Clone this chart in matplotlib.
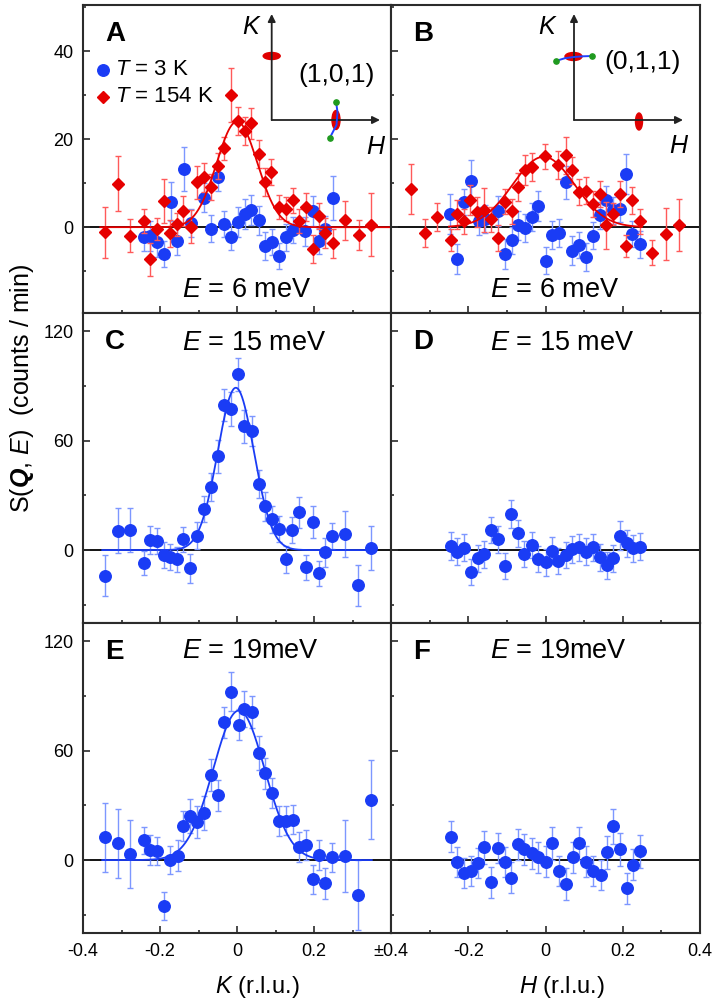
import numpy as np
import matplotlib
matplotlib.use("Agg")
import matplotlib.pyplot as plt
from matplotlib import font_manager as fm
from matplotlib.patches import Ellipse
from matplotlib.ticker import MultipleLocator, FixedLocator

# ---------------- data ----------------
# Panel A (T = 154 K, red) and (T = 3 K, blue), E = 6 meV, along K
A_red_K = [-0.344, -0.310, -0.277, -0.242, -0.225, -0.208, -0.189, -0.173, -0.156, -0.139, -0.119, -0.104,
           -0.085, -0.068, -0.050, -0.035, -0.016, 0.003, 0.020, 0.037, 0.056, 0.074, 0.089, 0.108, 0.126,
           0.145, 0.161, 0.179, 0.197, 0.212, 0.229, 0.249, 0.281, 0.316, 0.349]
A_red_S = [-1.2, 9.9, -1.9, 1.4, -7.3, -0.4, 5.9, -1.4, 0.7, 3.6, 0.1, 10.2, 11.4, 9.2, 13.9, 17.9, 30.0,
           24.2, 21.9, 23.6, 16.6, 10.3, 12.6, 4.6, 4.2, 6.1, 1.4, 4.5, -5.0, 2.6, -1.4, -3.7, 1.6, -1.8, 0.6]
A_red_err = [5.9, 6.3, 3.7, 2.7, 3.8, 2.6, 5.0, 3.0, 2.6, 3.4, 3.8, 3.8, 3.3, 3.0, 3.0, 2.7, 6.1, 3.2, 3.2,
             3.5, 3.2, 3.2, 2.9, 2.8, 2.7, 2.8, 2.8, 3.2, 3.2, 3.0, 3.4, 3.2, 4.4, 3.4, 7.1]
A_blue_K = [-0.242, -0.225, -0.208, -0.189, -0.171, -0.156, -0.137, -0.119, -0.085, -0.068, -0.050, -0.033,
            -0.016, 0.003, 0.020, 0.037, 0.056, 0.074, 0.091, 0.108, 0.127, 0.145, 0.177, 0.197, 0.212,
            0.229, 0.249]
A_blue_S = [-2.3, -1.9, -3.3, -6.1, 5.8, -3.1, 13.3, 1.0, 6.7, -0.3, 11.4, 0.7, -2.2, 1.2, 3.0, 3.9, 1.6,
            -4.3, -3.3, -6.5, -2.3, -0.7, -0.9, 3.6, -3.1, -0.5, 6.7]
A_blue_err = [3.0, 3.4, 3.4, 3.0, 4.5, 3.2, 5.0, 3.2, 3.3, 3.0, 3.2, 3.0, 3.0, 3.5, 3.4, 3.4, 3.3, 3.2, 3.0,
              3.0, 3.0, 3.0, 3.3, 3.4, 3.0, 3.0, 5.0]

# Panel B, E = 6 meV, along H
B_red_H = [-0.348, -0.313, -0.280, -0.245, -0.229, -0.212, -0.195, -0.177, -0.158, -0.141, -0.123, -0.106,
           -0.088, -0.071, -0.054, -0.036, -0.002, 0.033, 0.052, 0.069, 0.087, 0.106, 0.123, 0.140, 0.156,
           0.176, 0.193, 0.208, 0.225, 0.244, 0.277, 0.312, 0.346]
B_red_S = [8.7, -1.3, 2.4, -2.9, 2.9, 1.3, 6.2, 3.4, 3.8, 1.8, -2.4, 5.8, 3.6, 9.2, 13.1, 13.6, 16.1, 14.2,
           16.3, 12.9, 8.0, 8.3, 5.3, 7.6, 0.4, 3.0, 7.6, -4.3, 6.1, 1.3, -5.8, -1.5, 0.5]
B_red_err = [5.7, 3.2, 3.2, 2.6, 3.2, 2.8, 3.4, 3.4, 5.0, 2.8, 3.0, 2.8, 2.8, 3.2, 3.4, 3.2, 2.9, 3.2, 4.2,
             3.0, 3.0, 3.0, 3.0, 3.0, 5.3, 2.5, 3.0, 2.5, 3.0, 2.8, 2.8, 5.9, 5.9]
B_blue_H = [-0.247, -0.229, -0.212, -0.193, -0.173, -0.156, -0.123, -0.106, -0.088, -0.071, -0.054, -0.036,
            -0.019, 0.000, 0.017, 0.035, 0.052, 0.069, 0.087, 0.104, 0.123, 0.140, 0.156, 0.176, 0.193,
            0.208, 0.225, 0.244]
B_blue_S = [3.0, -7.3, 5.7, 10.5, 1.5, 1.9, 3.6, -6.1, -3.0, 0.4, -0.2, 2.3, 4.8, -7.6, -1.7, -1.4, 10.2,
            -5.3, -4.0, -6.8, -1.9, 2.7, 6.2, 3.8, 4.2, 12.1, -1.5, -3.9]
B_blue_err = [4.5, 3.4, 3.0, 4.7, 3.2, 3.2, 3.4, 3.4, 3.0, 3.2, 3.2, 3.2, 3.4, 3.0, 3.2, 3.2, 3.8, 3.2, 3.0,
              3.2, 3.0, 3.0, 3.2, 3.0, 3.0, 4.5, 3.0, 3.0]

# Panel C, E = 15 meV, along K
C_K = [-0.342, -0.310, -0.277, -0.242, -0.227, -0.208, -0.190, -0.173, -0.156, -0.139, -0.121, -0.104,
       -0.085, -0.068, -0.050, -0.035, -0.016, 0.003, 0.019, 0.039, 0.056, 0.074, 0.091, 0.108, 0.127,
       0.143, 0.162, 0.179, 0.197, 0.212, 0.229, 0.248, 0.281, 0.314, 0.348]
C_S = [-14.1, 10.6, 11.0, -7.3, 5.5, 5.1, -2.8, -3.7, -5.1, 5.9, -10.1, 7.9, 22.4, 34.5, 51.4, 79.4, 77.4,
       96.3, 67.9, 65.1, 36.1, 23.9, 16.9, 11.6, -5.1, 11.0, 20.6, -9.5, 15.2, -12.8, -1.3, 7.7, 8.8,
       -19.3, 1.3]
C_err = [11.3, 12.4, 12.1, 6.6, 7.8, 7.0, 7.0, 7.0, 7.0, 7.0, 7.8, 7.5, 7.0, 7.8, 9.2, 8.7, 9.5, 8.9, 9.0,
         8.3, 7.8, 7.8, 7.3, 7.3, 7.3, 7.3, 8.7, 6.9, 8.7, 7.0, 7.8, 7.3, 12.4, 11.2, 12.1]

# Panel D, E = 15 meV, along H
D_H = [-0.245, -0.229, -0.210, -0.193, -0.176, -0.158, -0.141, -0.123, -0.106, -0.089, -0.072, -0.055,
       -0.036, -0.019, 0.000, 0.017, 0.033, 0.052, 0.069, 0.087, 0.106, 0.123, 0.140, 0.158, 0.175, 0.192,
       0.210, 0.227, 0.244]
D_S = [2.2, -0.9, 1.3, -11.9, -4.6, -2.4, 11.0, 5.9, -8.8, 19.8, 9.2, -2.2, 2.8, -5.0, -6.8, -0.4, -5.9,
       -2.8, 0.4, 1.5, -0.9, 1.5, -4.0, -8.3, -4.6, 7.9, 3.7, 0.9, 1.8]
D_err = [7.8, 7.5, 7.5, 7.0, 7.3, 7.3, 7.3, 7.3, 7.0, 7.6, 7.3, 7.3, 7.3, 7.0, 7.3, 7.3, 7.3, 7.3, 7.3,
         7.3, 7.3, 7.3, 7.3, 7.3, 7.3, 7.8, 7.3, 7.3, 7.3]

# Panel E, E = 19 meV, along K
E_K = [-0.342, -0.310, -0.277, -0.242, -0.227, -0.208, -0.190, -0.173, -0.154, -0.139, -0.121, -0.104,
       -0.087, -0.068, -0.050, -0.035, -0.016, 0.004, 0.017, 0.039, 0.056, 0.074, 0.091, 0.108, 0.127,
       0.145, 0.160, 0.179, 0.197, 0.212, 0.229, 0.248, 0.281, 0.314, 0.348]
E_S = [12.4, 9.1, 3.3, 10.9, 5.5, 5.1, -25.1, 0.0, 2.4, 18.9, 24.0, 20.9, 25.8, 46.7, 35.5, 75.5, 92.4,
       74.2, 82.7, 81.3, 58.7, 47.6, 36.7, 21.5, 21.5, 22.2, 7.3, 8.5, -10.5, 2.7, -12.7, 1.5, 2.2, -19.1,
       33.1]
E_err = [19.0, 18.8, 18.8, 7.5, 8.2, 7.7, 7.5, 7.7, 8.5, 8.2, 9.3, 8.6, 9.1, 8.6, 8.6, 8.7, 10.6, 8.6,
         10.0, 8.9, 9.1, 8.6, 8.2, 8.4, 8.0, 8.0, 8.2, 8.2, 7.9, 8.4, 8.4, 7.9, 19.5, 19.1, 21.5]

# Panel F, E = 19 meV, along H
F_H = [-0.245, -0.228, -0.210, -0.193, -0.176, -0.158, -0.141, -0.123, -0.106, -0.089, -0.072, -0.055,
       -0.036, -0.019, 0.000, 0.017, 0.035, 0.052, 0.071, 0.087, 0.106, 0.123, 0.143, 0.158, 0.175, 0.193,
       0.210, 0.227, 0.244]
F_S = [12.7, -0.9, -7.3, -5.8, -1.8, 6.9, -12.2, 6.4, -1.3, -9.6, 8.7, 5.8, 3.6, 1.5, -0.9, 9.1, -5.8,
       -13.1, 1.5, 9.1, -0.9, -5.8, -8.2, 4.2, 18.5, 5.8, -15.5, -2.7, 4.9]
F_err = [8.5, 8.2, 8.2, 8.2, 8.2, 8.8, 8.4, 8.2, 8.2, 8.5, 8.5, 8.5, 8.5, 8.5, 8.5, 8.8, 8.2, 8.8, 8.5,
         8.8, 8.5, 8.2, 8.2, 9.0, 9.5, 8.8, 8.5, 8.5, 9.0]

# Gaussian fits: (amplitude, centre, sigma) and drawn range
FIT_A = [24.0, 0.0, 0.053]
FIT_A_RANGE = [-0.355, 0.40]
FIT_B = [16.0, -0.005, 0.080]
FIT_B_RANGE = [-0.25, 0.25]
FIT_C = [89.0, -0.003, 0.047]
FIT_C_RANGE = [-0.35, 0.35]
FIT_E = [82.0, 0.005, 0.067]
FIT_E_RANGE = [-0.35, 0.35]

X_TICKS = [-0.4, -0.2, 0.0, 0.2, 0.4]
LEFT_XLABELS = ["-0.4", "-0.2", "0", "0.2", "\u00b10.4"]
RIGHT_XLABELS = ["", "-0.2", "0", "0.2", "0.4"]
TOP_YTICKS = [0, 20, 40]
LOW_YTICKS = [0, 60, 120]

# ---------------- style ----------------
plt.rcParams['font.family'] = ['Liberation Sans', 'DejaVu Sans']
plt.rcParams['mathtext.fontset'] = 'custom'
plt.rcParams['mathtext.rm'] = 'Liberation Sans'
plt.rcParams['mathtext.it'] = 'Liberation Sans:italic'
plt.rcParams['mathtext.bf'] = 'Liberation Sans:bold'
try:
    plt.rcParams['mathtext.bfit'] = 'Liberation Sans:bold:italic'
    BFIT = True
except KeyError:
    BFIT = False

names = {f.name for f in fm.fontManager.ttflist}
LETTER_FAMILY = 'Liberation Sans Narrow' if 'Liberation Sans Narrow' in names else 'Liberation Sans'

BLUE = '#1a3cf5'
BLUE_E = '#7d97ff'
RED = '#e60000'
RED_E = '#ff5a5a'
SPINE = '#2b2b2b'

W, H = 712, 1001
fig = plt.figure(figsize=(W / 100, H / 100), dpi=100)

def rect(x0, x1, y0, y1):
    return [x0 / W, 1 - y1 / H, (x1 - x0) / W, (y1 - y0) / H]

cols = [(83, 391), (391, 700)]
rows = [(5, 313), (313, 623), (623, 933)]
axes = [[fig.add_axes(rect(c[0], c[1], r[0], r[1])) for c in cols] for r in rows]

ylims = [(-19.5, 50.5), (-40, 130), (-40, 130)]

for i, row in enumerate(axes):
    for j, ax in enumerate(row):
        ax.set_xlim(-0.4, 0.4)
        ax.set_ylim(*ylims[i])
        for s in ax.spines.values():
            s.set_linewidth(1.5)
            s.set_color(SPINE)
        ax.xaxis.set_major_locator(FixedLocator(X_TICKS))
        ax.xaxis.set_minor_locator(MultipleLocator(0.1))
        if i == 0:
            ax.yaxis.set_major_locator(FixedLocator(TOP_YTICKS))
            ax.yaxis.set_minor_locator(MultipleLocator(10))
        else:
            ax.yaxis.set_major_locator(FixedLocator(LOW_YTICKS))
            ax.yaxis.set_minor_locator(MultipleLocator(30))
        ax.tick_params(which='both', direction='in', top=False, right=False, color=SPINE,
                       labelsize=13, pad=7)
        ax.tick_params(which='major', length=5, width=1.2)
        ax.tick_params(which='minor', length=2.5, width=1.2)
        if i == 2:
            ax.set_xticklabels(LEFT_XLABELS if j == 0 else RIGHT_XLABELS)
        else:
            ax.tick_params(axis='x', labelbottom=False)
        if j == 1:
            ax.tick_params(axis='y', labelleft=False)
        ax.axhline(0, color='black', lw=1.3, zorder=1)

def eb(ax, x, y, e, color, ecolor, marker, ms, z):
    ax.errorbar(x, y, yerr=e, fmt=marker, color=color, ms=ms, mec=color, ecolor=ecolor,
                elinewidth=1.0, capsize=2.5, capthick=1.0, zorder=z)

def fit(ax, p, rng, color, z):
    xs = np.linspace(rng[0], rng[1], 400)
    ax.plot(xs, p[0] * np.exp(-(xs - p[1]) ** 2 / (2 * p[2] ** 2)), color=color, lw=1.3, zorder=z)

axA, axB = axes[0]
axC, axD = axes[1]
axE, axF = axes[2]

eb(axA, A_blue_K, A_blue_S, A_blue_err, BLUE, BLUE_E, 'o', 8.3, 3)
eb(axA, A_red_K, A_red_S, A_red_err, RED, RED_E, 'D', 6.2, 4)
fit(axA, FIT_A, FIT_A_RANGE, RED, 5)

eb(axB, B_blue_H, B_blue_S, B_blue_err, BLUE, BLUE_E, 'o', 8.3, 3)
eb(axB, B_red_H, B_red_S, B_red_err, RED, RED_E, 'D', 6.2, 4)
fit(axB, FIT_B, FIT_B_RANGE, RED, 5)

eb(axC, C_K, C_S, C_err, BLUE, BLUE_E, 'o', 8.3, 3)
fit(axC, FIT_C, FIT_C_RANGE, BLUE, 4)
eb(axD, D_H, D_S, D_err, BLUE, BLUE_E, 'o', 8.3, 3)
eb(axE, E_K, E_S, E_err, BLUE, BLUE_E, 'o', 8.3, 3)
fit(axE, FIT_E, FIT_E_RANGE, BLUE, 4)
eb(axF, F_H, F_S, F_err, BLUE, BLUE_E, 'o', 8.3, 3)

# panel letters and energy labels
letters = [["A", "B"], ["C", "D"], ["E", "F"]]
energies = [["$E$ = 6 meV", "$E$ = 6 meV"], ["$E$ = 15 meV", "$E$ = 15 meV"],
            ["$E$ = 19meV", "$E$ = 19meV"]]
energy_y = [0.075, 0.903, 0.91]
for i in range(3):
    for j in range(2):
        ax = axes[i][j]
        ax.text(0.071, 0.948, letters[i][j], transform=ax.transAxes, ha='left', va='top',
                fontsize=20, fontweight='bold', family=LETTER_FAMILY, zorder=10)
        ax.text(0.32, energy_y[i], energies[i][j], transform=ax.transAxes, ha='left', va='center',
                fontsize=19.5, zorder=10)

# legend in A
axA.plot([0.066], [0.79], 'o', color=BLUE, ms=8.3, transform=axA.transAxes, clip_on=False)
axA.plot([0.066], [0.702], 'D', color=RED, ms=6.2, transform=axA.transAxes, clip_on=False)
axA.text(0.103, 0.79, "$T$ = 3 K", transform=axA.transAxes, ha='left', va='center', fontsize=16)
axA.text(0.103, 0.702, "$T$ = 154 K", transform=axA.transAxes, ha='left', va='center', fontsize=16)

# axis labels
ylab = "S($\\mathbfit{Q}$, $E$)  (counts / min)" if BFIT else "S($\\mathbf{Q}$, $E$)  (counts / min)"
fig.text(22 / W, 1 - 388 / H, ylab, rotation=90, ha='center', va='center', fontsize=18)
fig.text(257 / W, 1 - 987 / H, "$K$ (r.l.u.)", ha='center', va='center', fontsize=17)
fig.text(562 / W, 1 - 987 / H, "$H$ (r.l.u.)", ha='center', va='center', fontsize=17)

# schematic insets (pixel overlay)
ov = fig.add_axes([0, 0, 1, 1])
ov.set_xlim(0, W)
ov.set_ylim(H, 0)
ov.axis('off')
ov.set_zorder(20)
ov.patch.set_alpha(0)

def inset(ox, oy, top, right, e1, e2, curve, label, label_xy, k_xy, h_xy):
    ov.add_patch(Ellipse(e1[:2], e1[2], e1[3], color='#e00000', zorder=2))
    ov.add_patch(Ellipse(e2[:2], e2[2], e2[3], color='#e00000', zorder=2))
    ap = dict(arrowstyle='-|>', lw=1.3, color='#222222', mutation_scale=11, shrinkA=0, shrinkB=0)
    ov.annotate('', xy=(ox, top), xytext=(ox, oy), arrowprops=ap, zorder=3)
    ov.annotate('', xy=(right, oy), xytext=(ox, oy), arrowprops=ap, zorder=3)
    cx, cy = curve
    ov.plot(cx, cy, color='#2040ff', lw=1.4, zorder=4)
    ov.plot([cx[0], cx[-1]], [cy[0], cy[-1]], 'o', color='#1f9a1f', ms=3.8, zorder=5)
    ov.text(label_xy[0], label_xy[1], label, ha='left', va='center', fontsize=19)
    ov.text(k_xy[0], k_xy[1], "K", ha='center', va='center', fontsize=18, style='italic')
    ov.text(h_xy[0], h_xy[1], "H", ha='center', va='center', fontsize=18, style='italic')

inset(271.7, 120, 14, 380, (271.7, 56, 17, 7), (336, 120, 8, 19),
      ([336, 337.5, 336.5, 330], [101.5, 112, 125, 137.5]), "(1,0,1)", (298, 75), (251, 27), (375, 147))
inset(574, 120, 14, 683, (573.5, 56.5, 17, 8), (639, 121.5, 7, 17),
      ([555.7, 565, 574, 583, 592.3], [61, 58.2, 57, 56.3, 56]), "(0,1,1)", (604, 62), (547, 27), (678, 146))

fig.savefig("out.png", dpi=100)
